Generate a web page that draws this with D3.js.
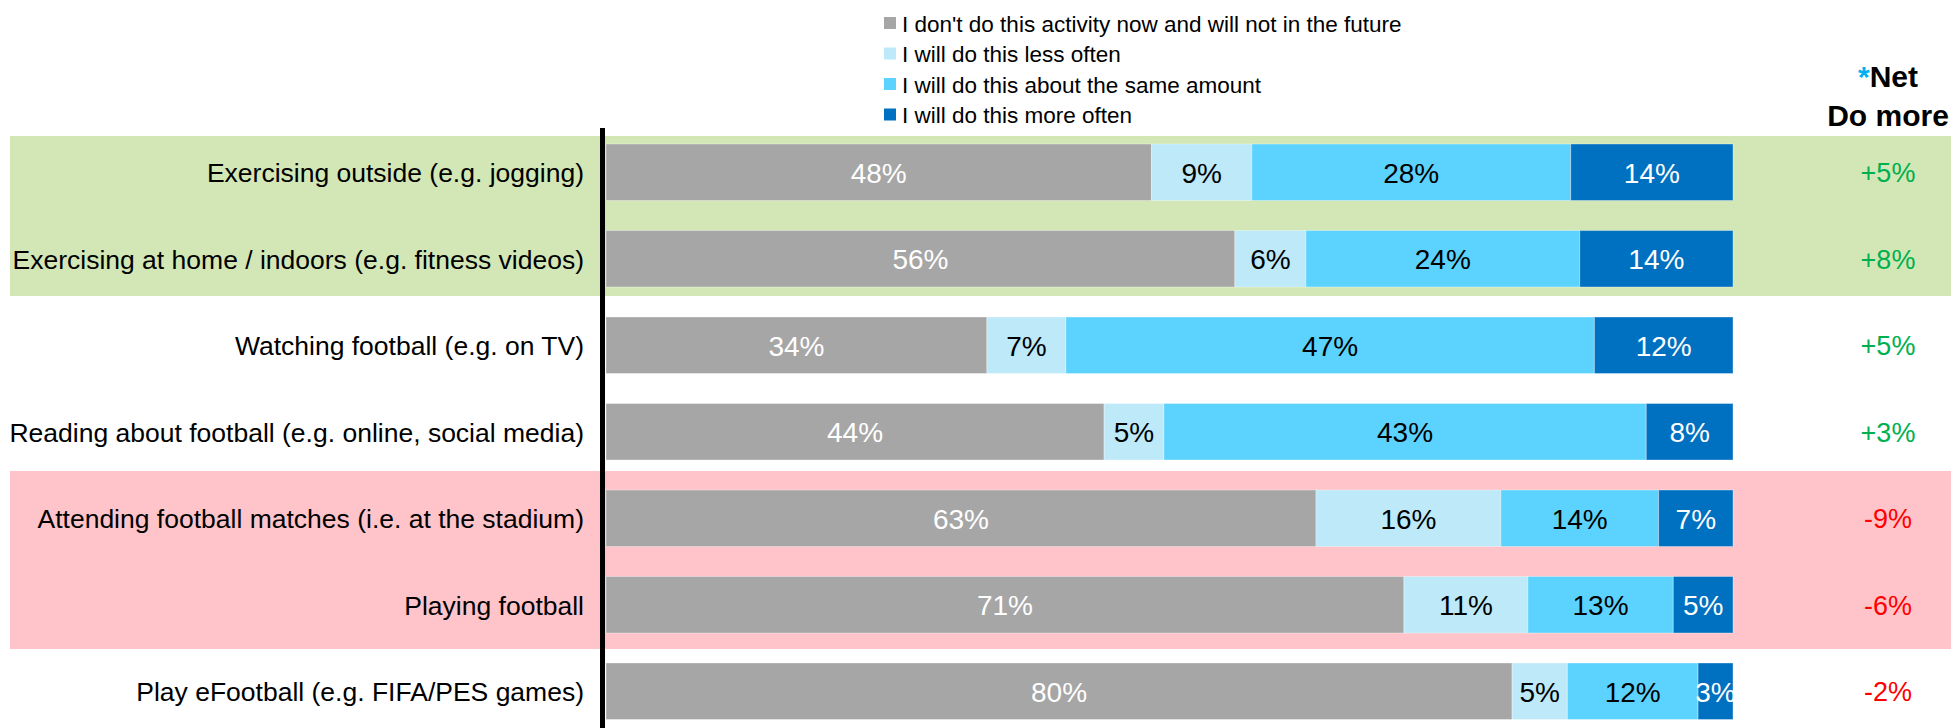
<!doctype html>
<html>
<head>
  <meta charset="utf-8">
  <script src="https://cdnjs.cloudflare.com/ajax/libs/d3/7.8.5/d3.min.js"></script>
  <style>
    body { margin: 0; background: white; }
    text { font-family: 'Liberation Sans', Arial, sans-serif; }
  </style>
</head>
<body>
  <script>
    const width = 1951;
    const height = 728;

    const categories = [
      'Exercising outside (e.g. jogging)',
      'Exercising at home / indoors (e.g. fitness videos)',
      'Watching football (e.g. on TV)',
      'Reading about football (e.g. online, social media)',
      'Attending football matches (i.e. at the stadium)',
      'Playing football',
      'Play eFootball (e.g. FIFA/PES games)'
    ];
    const seriesNames = [
      "I don't do this activity now and will not in the future",
      'I will do this less often',
      'I will do this about the same amount',
      'I will do this more often'
    ];
    // shares per row
    const notNow   = [48.4, 55.8, 33.8, 44.2, 63.0, 70.8, 80.4];
    const lessOften = [8.9, 6.3, 7.0, 5.3, 16.4, 11.0, 4.9];
    const sameAmount = [28.3, 24.3, 46.9, 42.8, 14.0, 12.9, 11.6];
    const moreOften = [14.4, 13.6, 12.3, 7.7, 6.6, 5.3, 3.1];
    const netLabels = ['+5%', '+8%', '+5%', '+3%', '-9%', '-6%', '-2%'];

    const colors = ['#a6a6a6', '#bde9f9', '#5cd3fe', '#0070c0'];
    const labelColors = ['white', 'black', 'black', 'white'];

    const margin = {top: 129, bottom: 6};

    let svg = d3.select('body').append('svg')
      .attr('width', width)
      .attr('height', height);

    let xScale = d3.scaleLinear().domain([0, 100]).range([606, 1733]);
    let yScale = d3.scaleBand()
      .domain(categories)
      .range([margin.top, margin.top + 7 * 86.5])
      .paddingInner(0.347)
      .paddingOuter(0.1735);

    // highlight bands behind rows
    const bands = [
      {from: 0, to: 1, color: '#d3e7b6', padTop: 8, padBottom: 9},
      {from: 4, to: 5, color: '#ffc4ca', padTop: 19, padBottom: 16}
    ];
    svg.selectAll('rect.band').data(bands).enter().append('rect')
      .attr('class', 'band')
      .attr('x', 10)
      .attr('width', width - 10)
      .attr('y', d => yScale(categories[d.from]) - d.padTop)
      .attr('height', d => yScale(categories[d.to]) + yScale.bandwidth() + d.padBottom - yScale(categories[d.from]) + d.padTop)
      .attr('fill', d => d.color);

    let table = categories.map((c, i) => ({
      name: c, v0: notNow[i], v1: lessOften[i], v2: sameAmount[i], v3: moreOften[i]
    }));
    let stack = d3.stack().keys(['v0', 'v1', 'v2', 'v3'])(table);

    let layers = svg.selectAll('g.layer').data(stack).enter().append('g')
      .attr('class', 'layer');

    layers.selectAll('rect').data(d => d).enter().append('rect')
      .attr('x', d => xScale(d[0]))
      .attr('width', d => xScale(d[1]) - xScale(d[0]))
      .attr('y', d => yScale(d.data.name))
      .attr('height', yScale.bandwidth())
      .attr('fill', function() { return colors[d3.select(this.parentNode).datum().index]; })
      .attr('stroke', 'rgba(255,255,255,0.35)')
      .attr('stroke-width', 1);

    layers.selectAll('text').data(d => d).enter().append('text')
      .attr('x', d => (xScale(d[0]) + xScale(d[1])) / 2)
      .attr('y', d => yScale(d.data.name) + yScale.bandwidth() / 2 + 1)
      .attr('text-anchor', 'middle')
      .attr('dominant-baseline', 'central')
      .attr('font-size', '28px')
      .attr('fill', function() { return labelColors[d3.select(this.parentNode).datum().index]; })
      .text(d => Math.round(d[1] - d[0]) + '%');

    // category labels
    svg.selectAll('text.cat').data(categories).enter().append('text')
      .attr('class', 'cat')
      .attr('x', 584)
      .attr('y', d => yScale(d) + yScale.bandwidth() / 2 + 1)
      .attr('text-anchor', 'end')
      .attr('dominant-baseline', 'central')
      .attr('font-size', '26.5px')
      .attr('fill', 'black')
      .text(d => d);

    // axis line
    svg.append('line')
      .attr('x1', 602.5).attr('x2', 602.5)
      .attr('y1', 128).attr('y2', height)
      .attr('stroke', 'black')
      .attr('stroke-width', 5);

    // net column
    svg.selectAll('text.net').data(netLabels).enter().append('text')
      .attr('class', 'net')
      .attr('x', 1888)
      .attr('y', (d, i) => yScale(categories[i]) + yScale.bandwidth() / 2 + 1)
      .attr('text-anchor', 'middle')
      .attr('dominant-baseline', 'central')
      .attr('font-size', '27px')
      .attr('fill', d => d[0] === '+' ? '#00b050' : '#ff0000')
      .text(d => d);

    let head = svg.append('text')
      .attr('x', 1888).attr('y', 87)
      .attr('text-anchor', 'middle')
      .attr('font-size', '30px')
      .attr('font-weight', 'bold');
    head.append('tspan').attr('fill', '#00b0f0').text('*');
    head.append('tspan').attr('fill', 'black').text('Net');
    svg.append('text')
      .attr('x', 1888).attr('y', 126)
      .attr('text-anchor', 'middle')
      .attr('font-size', '30px')
      .attr('font-weight', 'bold')
      .text('Do more');

    // legend
    let legend = svg.selectAll('g.legend').data(seriesNames).enter().append('g')
      .attr('class', 'legend')
      .attr('transform', (d, i) => `translate(884,${23 + i * 30.5})`);
    legend.append('rect')
      .attr('x', 0).attr('y', -6)
      .attr('width', 12).attr('height', 12)
      .attr('fill', (d, i) => colors[i]);
    legend.append('text')
      .attr('x', 18).attr('y', 1)
      .attr('dominant-baseline', 'central')
      .attr('font-size', '22.5px')
      .attr('fill', 'black')
      .text(d => d);
  </script>
</body>
</html>
